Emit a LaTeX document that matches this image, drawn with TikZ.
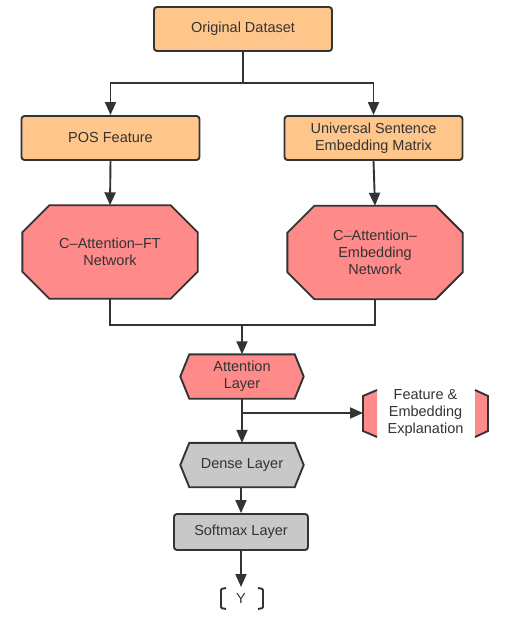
\documentclass[tikz,border=0pt]{standalone}
\usepackage{fontspec}
\setmainfont{Liberation Sans}
\usetikzlibrary{arrows.meta, calc, backgrounds}

\definecolor{boxorange}{HTML}{FFC68C}
\definecolor{boxpink}{HTML}{FF8A8A}
\definecolor{boxgray}{HTML}{C8C8C8}
\definecolor{inkgray}{HTML}{333333}

\tikzset{
  lbl/.style={align=center, text=inkgray, font=\fontsize{14.5}{17}\selectfont, inner sep=0pt},
  plain/.style={draw=inkgray, line width=1.9pt},
  flow/.style={plain, -{Triangle[length=13pt, width=11pt]}},
  databox/.style={lbl, plain, rounded corners=3pt, fill=boxorange, minimum width=178pt, minimum height=44pt},
  octbox/.style={lbl, minimum width=175pt, minimum height=93pt},
  hexbox/.style={lbl, minimum width=123pt, minimum height=44pt},
  softbox/.style={lbl, plain, rounded corners=3pt, fill=boxgray, minimum width=134pt, minimum height=36pt},
}

\begin{document}
\begin{tikzpicture}[x=1pt, y=-1pt]
\useasboundingbox (0,0) rectangle (507,620);

%draw data boxes
\node[databox] (orig) at (243,29) {Original Dataset};
\node[databox] (pos) at (110.5,138) {POS Feature};
\node[databox] (use) at (373.5,138) {Universal Sentence\\Embedding Matrix};

%draw networks
\node[octbox] (ftnet) at (110,252) {C--Attention--FT\\Network};
\node[octbox] (embnet) at (375,252.5) {C--Attention--\\Embedding\\Network};

%draw layers
\node[hexbox] (att) at (242,376.5) {Attention\\Layer};
\node[hexbox] (dense) at (242,465) {Dense Layer};
\node[softbox] (soft) at (241,532) {Softmax Layer};
\node[lbl] (expl) at (425.5,413) {Feature \&\\Embedding\\Explanation};
\node[lbl] (y) at (241,599) {Y};

\begin{scope}[on background layer]
\foreach \n in {ftnet, embnet}
  \draw[plain, fill=boxpink] ($(\n.north west)+(27,0)$) -- ($(\n.north east)+(-27,0)$)
    -- ($(\n.north east)+(0,27)$) -- ($(\n.south east)+(0,-27)$)
    -- ($(\n.south east)+(-27,0)$) -- ($(\n.south west)+(27,0)$)
    -- ($(\n.south west)+(0,-27)$) -- ($(\n.north west)+(0,27)$) -- cycle;
\draw[plain, fill=boxpink] (att.west) -- ($(att.north west)+(9,0)$) -- ($(att.north east)+(-9,0)$)
  -- (att.east) -- ($(att.south east)+(-9,0)$) -- ($(att.south west)+(9,0)$) -- cycle;
\draw[plain, fill=boxgray] (dense.west) -- ($(dense.north west)+(9,0)$) -- ($(dense.north east)+(-9,0)$)
  -- (dense.east) -- ($(dense.south east)+(-9,0)$) -- ($(dense.south west)+(9,0)$) -- cycle;
\end{scope}

%explanation brackets
\fill[boxpink] (377,390) -- (363,396) -- (363,431) -- (377,437) -- cycle;
\fill[boxpink] (475,390) -- (488,396) -- (488,431) -- (475,437) -- cycle;
\draw[plain] (377,390) -- (363,396) -- (363,431) -- (377,437);
\draw[plain] (475,390) -- (488,396) -- (488,431) -- (475,437);
\coordinate (explin) at (363,413);

%output brackets
\draw[plain, rounded corners=1pt] (226,588) -- (221,589) -- (221,608) -- (226,609);
\draw[plain, rounded corners=1pt] (258,588) -- (263,589) -- (263,608) -- (258,609);
\coordinate (yin) at (241,587);

%draw connectors
\coordinate (split) at (orig.south |- 0,83);
\coordinate (join) at (att.north |- 0,325);
\draw[plain] (orig.south) -- (split);
\draw[flow] (split) -| (pos.north);
\draw[flow] (split) -| (use.north);
\draw[flow] (pos.south) -- (ftnet.north);
\draw[flow] (use.south) -- (embnet.north);
\draw[plain] (ftnet.south) |- (join);
\draw[plain] (embnet.south) |- (join);
\draw[flow] (join) -- (att.north);
\draw[flow] (att.south) -- (dense.north);
\draw[flow] (att.south |- explin) -- (explin);
\draw[flow] (dense.south -| soft.north) -- (soft.north);
\draw[flow] (soft.south) -- (yin);

\end{tikzpicture}
\end{document}
